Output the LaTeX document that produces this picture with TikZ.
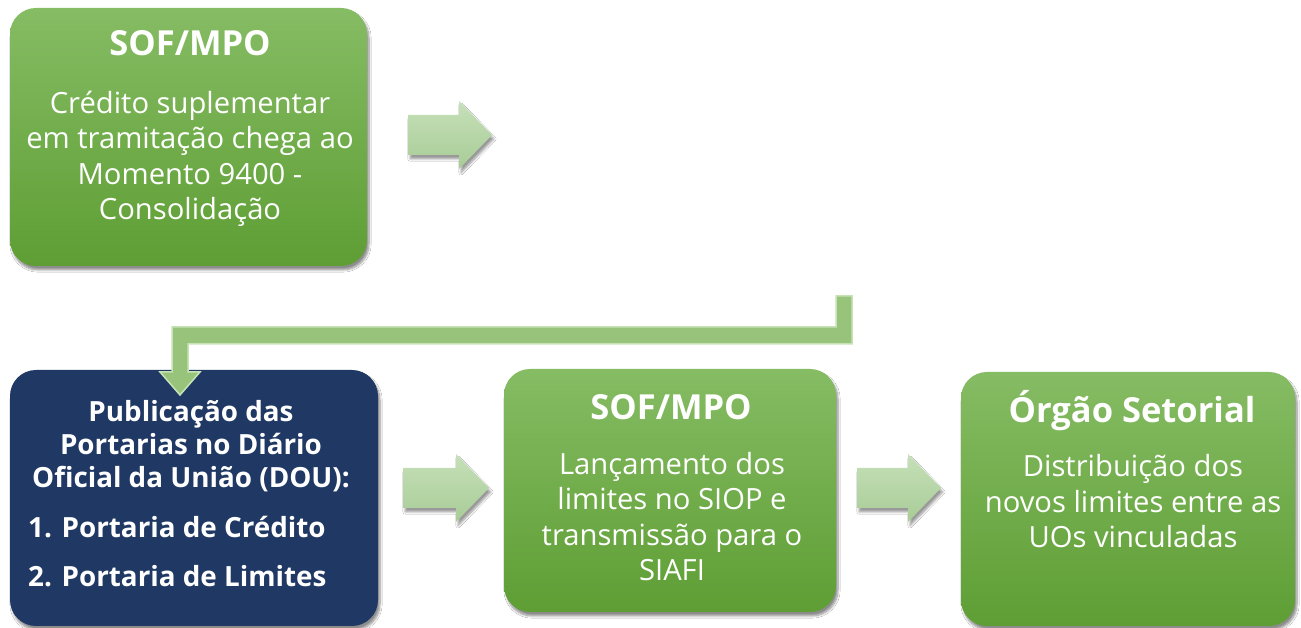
\documentclass[tikz,border=0pt]{standalone}
\usepackage{fontspec}
\setmainfont{Open Sans}
\usetikzlibrary{shadows.blur}
\definecolor{gtop}{HTML}{86BC64}
\definecolor{gbot}{HTML}{5E9E34}
\definecolor{navy}{HTML}{203864}
\definecolor{atop}{HTML}{C6E0B9}
\definecolor{abot}{HTML}{A8CC97}
\definecolor{bentfill}{HTML}{97C47A}
\definecolor{bentline}{HTML}{C8E2B8}
\tikzset{
  x=1pt, y=1pt,
  gbox/.style={rectangle, rounded corners=26pt, top color=gtop, bottom color=gbot, draw=none,
    blur shadow={shadow xshift=2pt, shadow yshift=-4pt, shadow blur steps=8, shadow opacity=45}},
  nbox/.style={rectangle, rounded corners=26pt, fill=navy, draw=none,
    blur shadow={shadow xshift=2pt, shadow yshift=-4pt, shadow blur steps=8, shadow opacity=45}},
  ttl/.style={text=white, font=\bfseries\fontsize{34.5}{38}\selectfont, anchor=base, inner sep=0pt},
  bodytxt/.style={text=white, font=\fontsize{29.2}{35.5}\selectfont, align=center, anchor=base, inner sep=0pt},
  navytxt/.style={text=white, font=\bfseries\fontsize{27.8}{33}\selectfont, inner sep=0pt},
  barrow/.style={top color=atop, bottom color=abot, draw=none,
    blur shadow={shadow xshift=2pt, shadow yshift=-4pt, shadow blur steps=6, shadow opacity=40}},
  bent/.style={fill=bentfill, draw=bentline, line width=1.5pt, line join=miter}
}
\newcommand\blockarr[3]{%
  \path[barrow] (#1,#3-20) -- (#2-33,#3-20) -- (#2-33,#3-34) -- (#2,#3) -- (#2-33,#3+34) -- (#2-33,#3+20) -- (#1,#3+20) -- cycle;}
\begin{document}
\begin{tikzpicture}
\useasboundingbox[fill=white] (0,0) rectangle (1301,628);
% boxes
\node[gbox, minimum width=357pt, minimum height=258pt] (b1) at (188.5,491) {};
\node[nbox, minimum width=368pt, minimum height=256pt] (b2) at (194,130) {};
\node[gbox, minimum width=332pt, minimum height=243pt] (b3) at (670,137.5) {};
\node[gbox, minimum width=334pt, minimum height=254pt] (b4) at (1128,129) {};
% texts box 1
\node[ttl] (t1) at (190,572) {SOF/MPO};
\node[bodytxt] (d1) at (190,408) {Crédito suplementar\\em tramitação chega ao\\Momento 9400 -\\Consolidação};
% texts box 2
\node[navytxt, align=center, anchor=base] (t2) at (191,140) {Publicação das\\Portarias no Diário\\Oficial da União (DOU):};
\node[navytxt, anchor=base west] (l1) at (28,90) {1. Portaria de Crédito};
\node[navytxt, anchor=base west] (l2) at (28,41) {2. Portaria de Limites};
% texts box 3
\node[ttl] (t3) at (671,208) {SOF/MPO};
\node[bodytxt] (d3) at (672,47) {Lançamento dos\\limites no SIOP e\\transmissão para o\\SIAFI};
% texts box 4
\node[ttl] (t4) at (1132,205) {Órgão Setorial};
\node[bodytxt] (d4) at (1133,80) {Distribuição dos\\novos limites entre as\\UOs vinculadas};
% block arrows
\blockarr{408}{492}{493}
\blockarr{403}{489}{140}
\blockarr{857}{941}{140}
% bent arrow
\path[bent] (836,332) -- (852,332) -- (852,284) -- (188,284) -- (188,256) -- (200,256) -- (180,233) -- (160,256) -- (172,256) -- (172,301) -- (836,301) -- cycle;
\end{tikzpicture}
\end{document}
